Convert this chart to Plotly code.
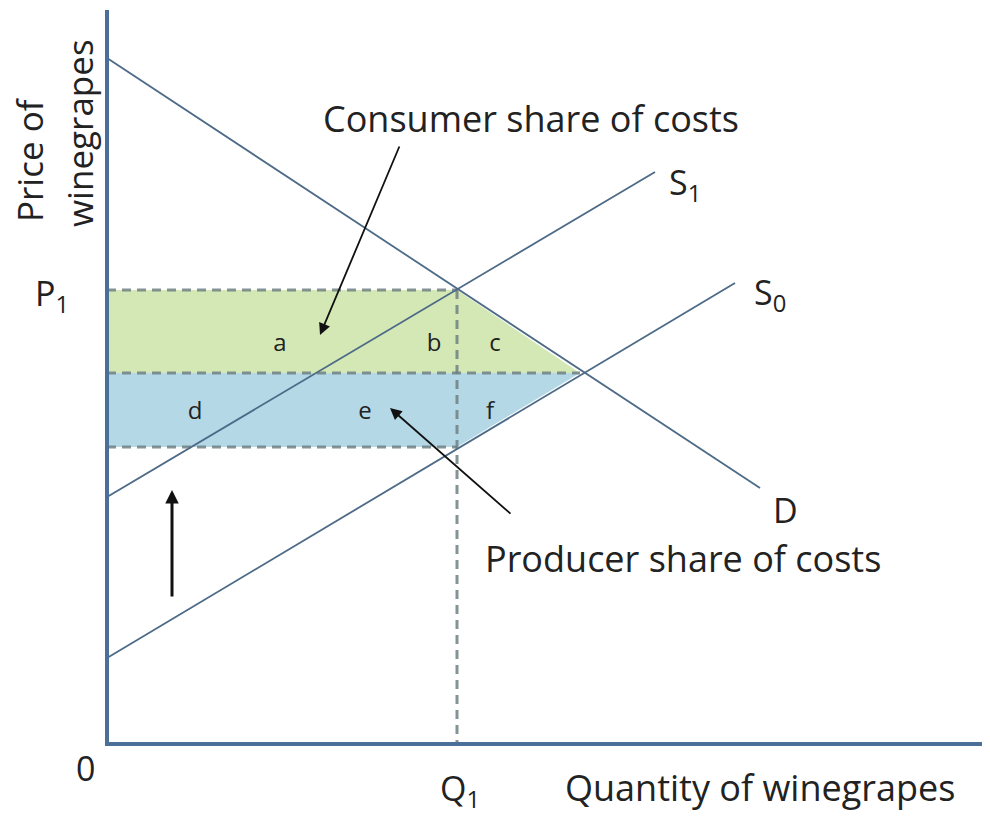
import plotly.graph_objects as go

# ---- chart values (economic units) ----
demand_q = [0.0, 65.3]
demand_p = [68.6, 25.6]
s1_q = [0.0, 54.8]
s1_p = [24.7, 57.2]
s0_q = [0.0, 62.8]
s0_p = [8.6, 46.1]

P1 = 45.4      # consumer price
P_mid = 37.1   # original equilibrium price
P_low = 29.7   # producer price net
Q1 = 35.0      # new quantity
Q0 = 47.3      # original equilibrium quantity

x_axis_end = 88.3
y_axis_end = 73.4

region_labels = ["a", "b", "c", "d", "e", "f"]
region_q = [17.3, 32.7, 38.8, 8.8, 25.8, 38.3]
region_p = [39.9, 39.9, 39.9, 33.1, 33.1, 33.1]

LINE = "#4d6a87"
AXIS = "#4a6f99"
DASH = "rgba(110,128,130,0.85)"
TXT = "#222222"
FONT = "Open Sans"

fig = go.Figure()

# shaded areas
fig.add_trace(go.Scatter(
    x=[0, Q1, Q0, 0, 0], y=[P1, P1, P_mid, P_mid, P1],
    fill="toself", fillcolor="#d4e8b6", line=dict(width=0),
    mode="lines", hoverinfo="skip", showlegend=False))
fig.add_trace(go.Scatter(
    x=[0, Q0, Q1, 0, 0], y=[P_mid, P_mid, P_low, P_low, P_mid],
    fill="toself", fillcolor="#b5d8e7", line=dict(width=0),
    mode="lines", hoverinfo="skip", showlegend=False))

# dashed guide lines
for xs, ys in [([0, Q1], [P1, P1]), ([0, Q0], [P_mid, P_mid]),
               ([0, Q1], [P_low, P_low]), ([Q1, Q1], [P1, 0])]:
    fig.add_trace(go.Scatter(x=xs, y=ys, mode="lines",
                             line=dict(color=DASH, width=3, dash="9px,6px"),
                             hoverinfo="skip", showlegend=False))

# curves
for xs, ys in [(demand_q, demand_p), (s1_q, s1_p), (s0_q, s0_p)]:
    fig.add_trace(go.Scatter(x=xs, y=ys, mode="lines",
                             line=dict(color=LINE, width=1.8),
                             hoverinfo="skip", showlegend=False))

# axes
fig.add_trace(go.Scatter(x=[0, 0, x_axis_end], y=[y_axis_end, 0, 0], mode="lines",
                         line=dict(color=AXIS, width=4),
                         hoverinfo="skip", showlegend=False))

# region letters
fig.add_trace(go.Scatter(x=region_q, y=region_p, mode="text", text=region_labels,
                         textfont=dict(family=FONT, size=24, color=TXT),
                         hoverinfo="skip", showlegend=False))

ann = []
def label(x, y, t, size=34, angle=0, xanchor="center"):
    ann.append(dict(x=x, y=y, xref="x", yref="y", text=t, showarrow=False,
                    textangle=angle, xanchor=xanchor, yanchor="middle",
                    font=dict(family=FONT, size=size, color=TXT)))

label(42.4, 62.6, "Consumer share of costs", size=36)
label(57.6, 18.6, "Producer share of costs", size=36)
label(65.3, -4.3, "Quantity of winegrapes", size=36)
label(-7.8, 58.4, "Price of", size=35, angle=-90)
label(-2.8, 61.1, "winegrapes", size=35, angle=-90)
label(-5.5, 44.9, "P<sub>1</sub>")
label(-2.2, -2.4, "0")
label(35.3, -4.6, "Q<sub>1</sub>")
label(57.8, 56.0, "S<sub>1</sub>")
label(66.3, 45.0, "S<sub>0</sub>")
label(67.8, 23.4, "D")

# arrows
def arrow(x0, y0, x1, y1, w=1.8):
    ann.append(dict(x=x1, y=y1, ax=x0, ay=y0, xref="x", yref="y",
                    axref="x", ayref="y", text="", showarrow=True,
                    arrowhead=2, arrowsize=1.3 if w < 2.5 else 0.9,
                    arrowwidth=w, arrowcolor="#111111"))

arrow(29.3, 59.9, 21.3, 40.9)
arrow(40.5, 22.9, 28.3, 33.6)
arrow(6.5, 14.6, 6.5, 25.4, w=3)

# page body has an 8px margin: size the figure to the visible window
fig.update_layout(
    width=974, height=802,
    margin=dict(l=0, r=0, t=0, b=0),
    paper_bgcolor="white", plot_bgcolor="white",
    xaxis=dict(range=[-9.9, 87.5], visible=False, fixedrange=True),
    yaxis=dict(range=[-6.6, 73.6], visible=False, fixedrange=True),
    annotations=ann,
    showlegend=False,
)

fig.write_html("out.html")
